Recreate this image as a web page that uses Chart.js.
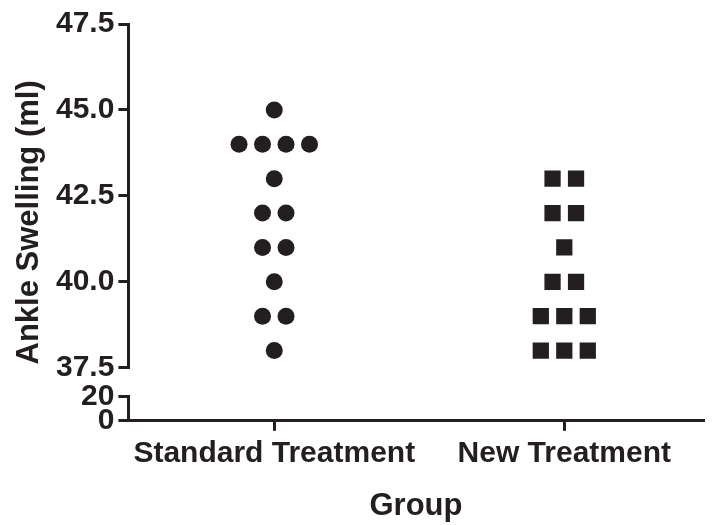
<!DOCTYPE html>
<html>
<head>
<meta charset="utf-8">
<script src="https://cdn.jsdelivr.net/npm/chart.js@4/dist/chart.umd.min.js"></script>
<style>
  html, body { margin: 0; padding: 0; background: #ffffff; }
  canvas { display: block; }
</style>
</head>
<body>
<canvas id="chart" width="715" height="525"></canvas>
<script>
  const groups = ['Standard Treatment', 'New Treatment'];
  const standardValues = [45, 44, 44, 44, 44, 43, 42, 42, 41, 41, 40, 39, 39, 38];
  const newValues = [43, 43, 42, 42, 41, 40, 40, 39, 39, 39, 38, 38, 38];
  const upperTicks = [37.5, 40.0, 42.5, 45.0, 47.5];
  const lowerTicks = [0, 20];

  const ink = '#231f20';
  const font = "'Liberation Sans', Arial, sans-serif";
  const spread = 0.081;

  // spread repeated values sideways, like a scatter dot plot
  function dotPositions(values, groupIndex) {
    const counts = {};
    values.forEach((v) => { counts[v] = (counts[v] || 0) + 1; });
    const seen = {};
    return values.map((v) => {
      const n = counts[v];
      const i = seen[v] || 0;
      seen[v] = i + 1;
      return { x: groupIndex + 1 + (i - (n - 1) / 2) * spread, y: v };
    });
  }

  const yTitlePlugin = {
    id: 'yTitle',
    afterDraw(chart) {
      const top = chart.scales.yTop.top;
      const bottom = chart.scales.yBot.bottom;
      const ctx = chart.ctx;
      ctx.save();
      ctx.translate(29, (top + bottom) / 2);
      ctx.rotate(-Math.PI / 2);
      ctx.fillStyle = ink;
      ctx.font = `bold 31px ${font}`;
      ctx.textAlign = 'center';
      ctx.textBaseline = 'middle';
      ctx.fillText('Ankle Swelling (ml)', 0, 0);
      ctx.restore();
    }
  };

  const axisStyle = {
    border: { display: true, color: ink, width: 3 },
    grid: { display: true, drawOnChartArea: false, drawTicks: true, tickLength: 10, color: ink, lineWidth: 3 },
    ticks: { color: ink, font: { family: font, size: 30, weight: 'bold' }, padding: 4, autoSkip: false }
  };

  new Chart(document.getElementById('chart'), {
    type: 'scatter',
    data: {
      datasets: [
        {
          label: groups[0],
          data: dotPositions(standardValues, 0),
          yAxisID: 'yTop',
          pointStyle: 'circle',
          pointRadius: 8.5,
          pointHoverRadius: 8.5,
          backgroundColor: ink,
          borderColor: ink,
          borderWidth: 0
        },
        {
          label: groups[1],
          data: dotPositions(newValues, 1),
          yAxisID: 'yTop',
          pointStyle: 'rect',
          pointRadius: 11.5,
          pointHoverRadius: 11.5,
          backgroundColor: ink,
          borderColor: ink,
          borderWidth: 0
        }
      ]
    },
    options: {
      responsive: false,
      animation: false,
      layout: { padding: { left: 52, top: 24, right: 0, bottom: 0 } },
      plugins: {
        legend: { display: false },
        tooltip: { enabled: false }
      },
      scales: {
        x: {
          type: 'linear',
          min: 0.497,
          max: 2.48,
          border: axisStyle.border,
          grid: axisStyle.grid,
          afterBuildTicks(scale) {
            scale.ticks = groups.map((_, i) => ({ value: i + 1 }));
          },
          ticks: {
            color: ink,
            font: { family: font, size: 30, weight: 'bold' },
            padding: 5,
            maxRotation: 0,
            autoSkip: false,
            callback(value) { return groups[value - 1] || ''; }
          },
          title: {
            display: true,
            text: 'Group',
            color: ink,
            font: { family: font, size: 31, weight: 'bold' },
            padding: { top: 11, bottom: 0 }
          }
        },
        yBot: {
          type: 'linear',
          position: 'left',
          stack: 'y',
          stackWeight: 24,
          min: 0,
          max: 20,
          border: axisStyle.border,
          grid: axisStyle.grid,
          afterBuildTicks(scale) {
            scale.ticks = lowerTicks.map((v) => ({ value: v }));
          },
          ticks: Object.assign({}, axisStyle.ticks, { callback(value) { return String(value); } })
        },
        yGap: {
          type: 'linear',
          position: 'left',
          stack: 'y',
          stackWeight: 29,
          min: 0,
          max: 1,
          border: { display: false },
          grid: { display: false },
          ticks: { display: false }
        },
        yTop: {
          type: 'linear',
          position: 'left',
          stack: 'y',
          stackWeight: 343,
          min: 37.5,
          max: 47.5,
          border: axisStyle.border,
          grid: axisStyle.grid,
          afterBuildTicks(scale) {
            scale.ticks = upperTicks.map((v) => ({ value: v }));
          },
          ticks: Object.assign({}, axisStyle.ticks, { callback(value) { return value.toFixed(1); } })
        }
      }
    },
    plugins: [yTitlePlugin]
  });
</script>
</body>
</html>
